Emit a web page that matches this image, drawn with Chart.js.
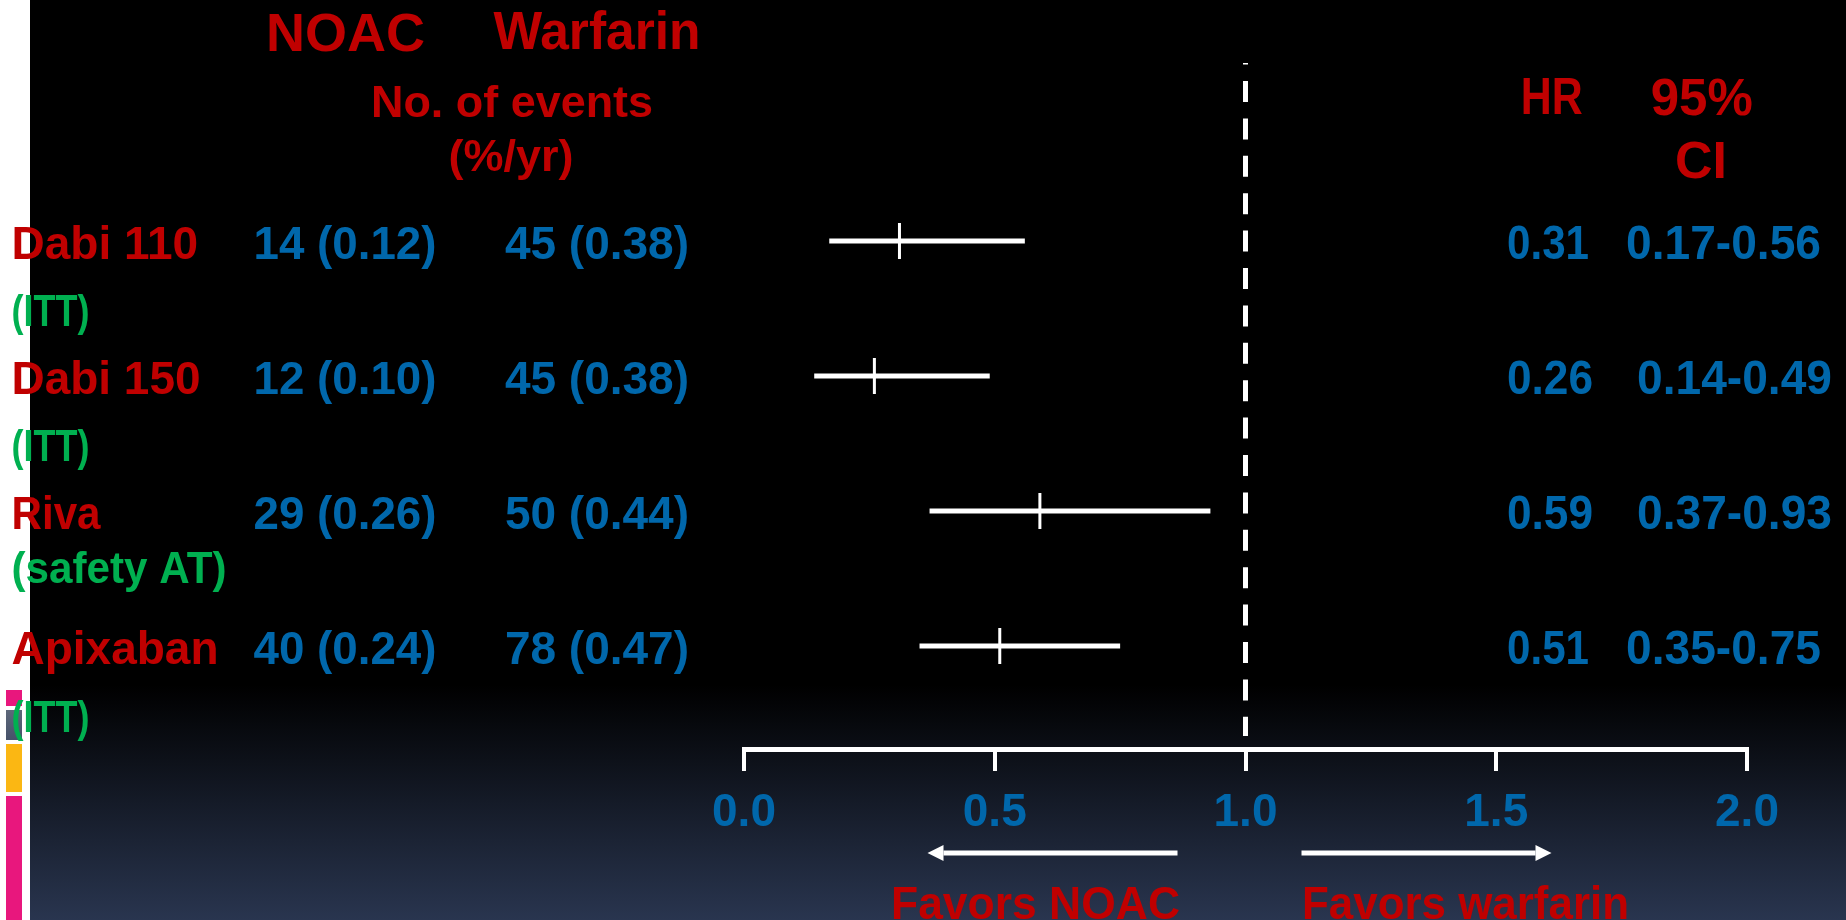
<!DOCTYPE html>
<html>
<head>
<meta charset="utf-8">
<title>Major bleeding: NOAC vs warfarin</title>
<script src="https://cdn.jsdelivr.net/npm/chart.js@4/dist/chart.umd.min.js"></script>
<style>
  html, body { margin: 0; padding: 0; background: #000; overflow: hidden; }
  #wrap { width: 1846px; height: 920px; position: relative; }
</style>
</head>
<body>
<div id="wrap"><canvas id="forest" width="1846" height="920"></canvas></div>
<script>
// Trial arms
const rows = ['Dabi 110', 'Dabi 150', 'Riva', 'Apixaban'];
const populations = ['(ITT)', '(ITT)', '(safety AT)', '(ITT)'];

// Events (rate %/yr)
const noacEvents = [14, 12, 29, 40];
const noacRates = [0.12, 0.10, 0.26, 0.24];
const warfarinEvents = [45, 45, 50, 78];
const warfarinRates = [0.38, 0.38, 0.44, 0.47];

// Hazard ratios with 95% confidence intervals
const hazardRatios = [0.31, 0.26, 0.59, 0.51];
const ciLower = [0.17, 0.14, 0.37, 0.35];
const ciUpper = [0.56, 0.49, 0.93, 0.75];

// Horizontal axis
const axisMin = 0;
const axisMax = 2;
const axisStep = 0.5;
const referenceHR = 1;

const RED = '#c00000';
const GREEN = '#00b050';
const BLUE = '#0067ab';
const FONT = '"Liberation Sans", Arial, sans-serif';

function text(ctx, str, x, y, size, color, align, maxW) {
  ctx.font = 'bold ' + size + 'px ' + FONT;
  ctx.fillStyle = color;
  ctx.textAlign = align;
  ctx.textBaseline = 'alphabetic';
  if (maxW) ctx.fillText(str, x, y, maxW); else ctx.fillText(str, x, y);
}

// Slide background: black fading to navy, white margin with coloured tabs
const backdrop = {
  id: 'backdrop',
  beforeDraw(chart) {
    const ctx = chart.ctx;
    const W = chart.width, H = chart.height;
    ctx.save();
    ctx.fillStyle = '#000';
    ctx.fillRect(0, 0, W, H);
    const g = ctx.createLinearGradient(0, 685, 0, H);
    g.addColorStop(0, '#000000');
    g.addColorStop(1, '#29354f');
    ctx.fillStyle = g;
    ctx.fillRect(0, 685, W, H - 685);
    ctx.fillStyle = '#ffffff';
    ctx.fillRect(0, 0, 30, H);
    ctx.fillStyle = '#e8177d'; ctx.fillRect(6, 690, 16, 16);
    const gg = ctx.createLinearGradient(0, 710, 0, 740);
    gg.addColorStop(0, '#5e687a'); gg.addColorStop(1, '#46526a');
    ctx.fillStyle = gg; ctx.fillRect(6, 710, 16, 30);
    ctx.fillStyle = '#fbb713'; ctx.fillRect(6, 744, 16, 48);
    ctx.fillStyle = '#e8177d'; ctx.fillRect(6, 796, 16, 124);
    ctx.restore();
  }
};

// Dashed line of no effect at HR = 1
const noEffect = {
  id: 'noEffect',
  beforeDatasetsDraw(chart) {
    const ctx = chart.ctx;
    const xs = chart.scales.x;
    const area = chart.chartArea;
    const x = xs.getPixelForValue(referenceHR);
    ctx.save();
    ctx.strokeStyle = '#ffffff';
    ctx.lineWidth = 5;
    ctx.setLineDash([21, 16.4]);
    ctx.lineDashOffset = 19.4;
    ctx.beginPath();
    ctx.moveTo(x, area.top);
    ctx.lineTo(x, area.bottom - 13);
    ctx.stroke();
    ctx.restore();
  }
};

// Table columns, headers, and "favors" arrows
const tableText = {
  id: 'tableText',
  afterDraw(chart) {
    const ctx = chart.ctx;
    const ys = chart.scales.y;
    const xs = chart.scales.x;
    ctx.save();

    text(ctx, 'NOAC', 345.5, 51, 54, RED, 'center', 161);
    text(ctx, 'Warfarin', 597, 49, 54, RED, 'center', 207);
    text(ctx, 'No. of events', 512, 117, 45, RED, 'center', 282);
    text(ctx, '(%/yr)', 511, 171, 45, RED, 'center');
    text(ctx, 'HR', 1551.7, 113.5, 52, RED, 'center', 62);
    text(ctx, '95%', 1701.7, 114.5, 52, RED, 'center', 102);
    text(ctx, 'CI', 1701, 178, 52, RED, 'center', 52);

    const nameW = [189, 189, 89, 214];
    const popW = [78, 78, 215, 78];
    const popDy = [85, 85, 72, 86];
    const hrW = [82, 86, 86, 82];
    const ciX = [1626, 1637, 1637, 1626];

    rows.forEach((name, i) => {
      const yRow = ys.getPixelForValue(i);
      const base = yRow + 18;
      text(ctx, name, 11.5, base, 46, RED, 'left', nameW[i]);
      text(ctx, populations[i], 11.5, yRow + popDy[i], 44, GREEN, 'left', popW[i]);
      text(ctx, noacEvents[i] + ' (' + noacRates[i].toFixed(2) + ')', 436.5, base, 46, BLUE, 'right', 183);
      text(ctx, warfarinEvents[i] + ' (' + warfarinRates[i].toFixed(2) + ')', 689, base, 46, BLUE, 'right', 185);
      text(ctx, hazardRatios[i].toFixed(2), 1507, base, 48, BLUE, 'left', hrW[i]);
      text(ctx, ciLower[i].toFixed(2) + '-' + ciUpper[i].toFixed(2), ciX[i], base, 48, BLUE, 'left', 195);
    });

    // arrows under the axis
    const x1 = xs.getPixelForValue(referenceHR);
    const ay = 853;
    ctx.fillStyle = '#ffffff';
    ctx.strokeStyle = '#ffffff';
    ctx.lineWidth = 5;
    ctx.beginPath();
    ctx.moveTo(x1 - 68, ay); ctx.lineTo(x1 - 302, ay);
    ctx.moveTo(x1 + 56, ay); ctx.lineTo(x1 + 290, ay);
    ctx.stroke();
    ctx.beginPath();
    ctx.moveTo(x1 - 318, ay); ctx.lineTo(x1 - 302, ay - 8); ctx.lineTo(x1 - 302, ay + 8); ctx.closePath();
    ctx.moveTo(x1 + 306, ay); ctx.lineTo(x1 + 290, ay - 8); ctx.lineTo(x1 + 290, ay + 8); ctx.closePath();
    ctx.fill();

    text(ctx, 'Favors NOAC', 891, 919, 47, RED, 'left', 289);
    text(ctx, 'Favors warfarin', 1302, 919, 47, RED, 'left', 327);
    ctx.restore();
  }
};

const ciDatasets = rows.map((name, i) => ({
  type: 'line',
  label: name + ' 95% CI',
  data: [{ x: ciLower[i], y: i }, { x: ciUpper[i], y: i }],
  borderColor: '#ffffff',
  borderWidth: 5,
  borderCapStyle: 'butt',
  pointRadius: 0,
  showLine: true,
  fill: false
}));

const hrDataset = {
  type: 'scatter',
  label: 'HR',
  data: hazardRatios.map((v, i) => ({ x: v, y: i })),
  pointStyle: 'line',
  rotation: 90,
  radius: 18,
  borderWidth: 3,
  borderColor: '#ffffff',
  backgroundColor: '#ffffff'
};

new Chart(document.getElementById('forest'), {
  type: 'scatter',
  data: { datasets: [...ciDatasets, hrDataset] },
  options: {
    responsive: false,
    animation: false,
    devicePixelRatio: 1,
    layout: { padding: { left: 744, right: 99, top: 63, bottom: 0 } },
    plugins: { legend: { display: false }, tooltip: { enabled: false } },
    scales: {
      x: {
        type: 'linear',
        min: axisMin,
        max: axisMax,
        afterFit(scale) { scale.height = 171; },
        ticks: {
          stepSize: axisStep,
          padding: 15,
          color: BLUE,
          font: { family: FONT, weight: 'bold', size: 46 },
          callback: v => Number(v).toFixed(1)
        },
        grid: {
          drawOnChartArea: false,
          drawTicks: true,
          tickLength: 22,
          tickWidth: 4,
          tickColor: '#ffffff',
          lineWidth: 4,
          color: '#ffffff'
        },
        border: { display: true, color: '#ffffff', width: 5 }
      },
      y: {
        type: 'linear',
        reverse: true,
        min: -1.3185,
        max: 3.763,
        display: false
      }
    }
  },
  plugins: [backdrop, noEffect, tableText]
});
</script>
</body>
</html>
